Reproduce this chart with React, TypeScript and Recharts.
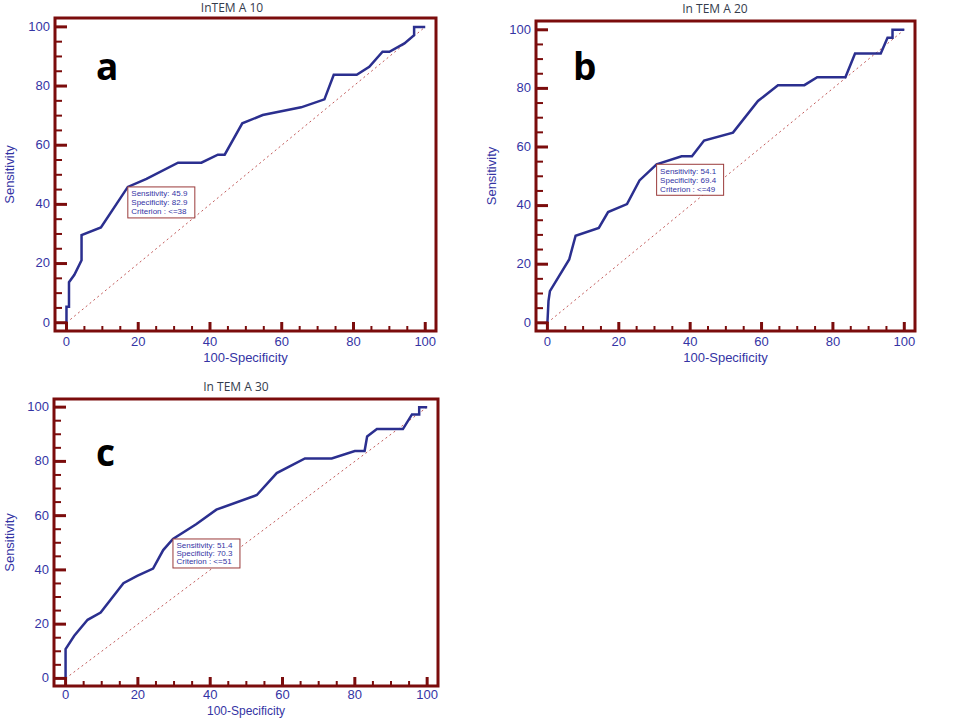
import React from 'react';
import { LineChart, Line, XAxis, YAxis, ReferenceLine, ReferenceArea, ReferenceDot } from 'recharts';

// ROC points: x = 100-Specificity, y = Sensitivity
const fprA = [0, 0, 0.7, 0.7, 2.2, 4.2, 4.2, 9.6, 17.1, 22.3, 31.1, 37.6, 42.2, 44.1, 49.0, 54.7, 65.4, 71.9, 74.5, 80.9, 84.4, 88.1, 90.0, 94.2, 96.9, 96.9, 100];
const sensA = [0, 5.4, 5.4, 13.7, 16.2, 21.1, 29.6, 32.2, 45.9, 48.6, 54.1, 54.1, 56.8, 56.8, 67.4, 70.2, 72.8, 75.5, 83.8, 83.8, 86.5, 91.6, 91.6, 94.4, 97.2, 100, 100];

const fprB = [0, 0.3, 0.7, 6.1, 7.9, 14.4, 17.0, 22.3, 25.8, 30.6, 37.6, 40.5, 43.9, 52.0, 59.0, 64.6, 72.0, 75.6, 83.5, 86.2, 93.4, 95.3, 96.7, 96.7, 100];
const sensB = [0, 7.4, 10.8, 21.6, 29.7, 32.4, 37.8, 40.5, 48.6, 54.1, 56.8, 56.8, 62.2, 64.9, 75.7, 81.1, 81.1, 83.8, 83.8, 91.9, 91.9, 97.3, 97.3, 100, 100];

const fprC = [0, 0, 2.4, 6.1, 9.7, 16.0, 19.8, 24.2, 27.0, 29.7, 36.1, 41.7, 52.9, 58.4, 66.2, 73.6, 80.0, 82.7, 83.4, 86.1, 93.3, 95.8, 97.8, 97.8, 100];
const sensC = [0, 10.8, 15.7, 21.6, 24.3, 35.1, 37.8, 40.5, 47.3, 51.4, 56.8, 62.2, 67.6, 75.7, 81.1, 81.1, 83.8, 83.8, 89.2, 91.9, 91.9, 97.3, 97.3, 100, 100];

// criterion boxes
const cutSens = [45.9, 54.1, 51.4];
const cutSpec = [82.9, 69.4, 70.3];
const cutCrit = ['<=38', '<=49', '<=51'];

const titles = ['InTEM A 10', 'In TEM A 20', 'In TEM A 30'];
const letters = ['a', 'b', 'c'];

const diagX = [0, 100];
const diagY = [0, 100];
const axisTicks = [0, 5, 10, 15, 20, 25, 30, 35, 40, 45, 50, 55, 60, 65, 70, 75, 80, 85, 90, 95, 100];

const X_DOMAIN = [-3.2, 103];
const Y_DOMAIN = [-2.8, 103];

const FRAME = '#7b0c0c';
const BLUE = '#3434a4';
const CURVE = '#2b2f8f';

const XTick = (props: any) => {
  const { x, y, payload, labelDy } = props;
  const v = payload.value;
  const major = v % 20 === 0;
  return (
    <g>
      <line x1={x} x2={x} y1={y} y2={y - (major ? 9 : 5)} stroke={FRAME} strokeWidth={major ? 3 : 2} />
      {major && (
        <text x={x} y={y + labelDy} textAnchor="middle" fill={BLUE} fontSize={13}>
          {v}
        </text>
      )}
    </g>
  );
};

const YTick = (props: any) => {
  const { x, y, payload } = props;
  const v = payload.value;
  const major = v % 20 === 0;
  return (
    <g>
      <line x1={x} x2={x + (major ? 12 : 7)} y1={y} y2={y} stroke={FRAME} strokeWidth={major ? 3 : 2} />
      {major && (
        <text x={x - 5} y={y} dy="0.3em" textAnchor="end" fill={BLUE} fontSize={13}>
          {v}
        </text>
      )}
    </g>
  );
};

const CutBox = (props: any) => {
  const { cx, cy, sens, spec, crit, boxH } = props;
  if (cx == null || cy == null) return null;
  const step = (boxH - 4) / 3;
  return (
    <g>
      <rect x={cx} y={cy} width={67} height={boxH} fill="#fff" stroke="#9a3a3a" strokeWidth={1} />
      <text x={cx + 3.5} y={cy + step + 0.5} fill={BLUE} fontSize={8}>{`Sensitivity: ${sens}`}</text>
      <text x={cx + 3.5} y={cy + 2 * step + 0.5} fill={BLUE} fontSize={8}>{`Specificity: ${spec}`}</text>
      <text x={cx + 3.5} y={cy + 3 * step + 0.5} fill={BLUE} fontSize={8}>{`Criterion : ${crit}`}</text>
    </g>
  );
};

type PanelProps = {
  idx: number;
  fpr: number[];
  sens: number[];
  left: number;
  top: number;
  width: number;
  height: number;
  margin: { top: number; right: number; left: number; bottom: number };
  yWidth: number;
  xHeight: number;
  xLabelOffset: number;
  xLabelSize: number;
  xTickDy: number;
  yLabelOffset: number;
  boxH: number;
};

function RocPanel(p: PanelProps) {
  const data = p.fpr.map((f, i) => ({ x: f, y: p.sens[i] }));
  const i = p.idx;
  return (
    <div style={{ position: 'absolute', left: p.left, top: p.top }}>
      <LineChart width={p.width} height={p.height} data={data} margin={p.margin}>
        <XAxis
          dataKey="x"
          type="number"
          domain={X_DOMAIN}
          allowDataOverflow
          ticks={axisTicks}
          interval={0}
          tickSize={0}
          tickMargin={0}
          tickLine={false}
          axisLine={false}
          tick={<XTick labelDy={p.xTickDy} />}
          height={p.xHeight}
          label={{ value: '100-Specificity', position: 'insideBottom', offset: p.xLabelOffset, fill: BLUE, fontSize: p.xLabelSize }}
        />
        <YAxis
          type="number"
          domain={Y_DOMAIN}
          allowDataOverflow
          ticks={axisTicks}
          interval={0}
          tickSize={0}
          tickMargin={0}
          tickLine={false}
          axisLine={false}
          tick={<YTick />}
          width={p.yWidth}
          label={{
            value: 'Sensitivity',
            angle: -90,
            position: 'insideLeft',
            offset: p.yLabelOffset,
            fill: BLUE,
            fontSize: 13,
            textAnchor: 'middle',
            style: { textAnchor: 'middle' },
          }}
        />
        <ReferenceArea
          x1={X_DOMAIN[0]}
          x2={X_DOMAIN[1]}
          y1={Y_DOMAIN[0]}
          y2={Y_DOMAIN[1]}
          fill="none"
          stroke={FRAME}
          strokeWidth={3}
          ifOverflow="visible"
        />
        <ReferenceLine
          segment={[
            { x: diagX[0], y: diagY[0] },
            { x: diagX[1], y: diagY[1] },
          ]}
          stroke="#c25a5a"
          strokeWidth={1}
          strokeDasharray="2 3"
        />
        <Line
          dataKey="y"
          type="linear"
          stroke={CURVE}
          strokeWidth={2.5}
          dot={false}
          activeDot={false}
          isAnimationActive={false}
        />
        <ReferenceDot
          x={100 - cutSpec[i]}
          y={cutSens[i]}
          r={0}
          zIndex={3000}
          shape={(sp: any) => (
            <CutBox {...sp} sens={cutSens[i]} spec={cutSpec[i]} crit={cutCrit[i]} boxH={p.boxH} />
          )}
        />
      </LineChart>
    </div>
  );
}

const titleStyle: React.CSSProperties = {
  position: 'absolute',
  width: 200,
  textAlign: 'center',
  fontFamily: '"Open Sans", sans-serif',
  fontSize: 12,
  lineHeight: '14px',
  color: '#343c4c',
};

const letterStyle: React.CSSProperties = {
  position: 'absolute',
  fontFamily: '"Open Sans", sans-serif',
  fontWeight: 700,
  fontSize: 37,
  lineHeight: '36px',
  color: '#000',
};

export default function App() {
  return (
    <div
      style={{
        position: 'absolute',
        left: 0,
        top: 0,
        width: 960,
        height: 720,
        background: '#fff',
        fontFamily: '"Liberation Sans", Arial, sans-serif',
      }}
    >
      <div style={{ ...titleStyle, left: 232 - 100, top: 1 }}>{titles[0]}</div>
      <div style={{ ...titleStyle, left: 715 - 100, top: 2 }}>{titles[1]}</div>
      <div style={{ ...titleStyle, left: 236 - 100, top: 380 }}>{titles[2]}</div>

      <RocPanel
        idx={0}
        fpr={fprA}
        sens={sensA}
        left={0}
        top={0}
        width={450}
        height={372}
        margin={{ top: 18, right: 14, left: 0, bottom: 0 }}
        yWidth={55}
        xHeight={41}
        xLabelOffset={10}
        xLabelSize={13}
        xTickDy={15}
        yLabelOffset={9}
        boxH={31}
      />
      <RocPanel
        idx={1}
        fpr={fprB}
        sens={sensB}
        left={480}
        top={0}
        width={440}
        height={372}
        margin={{ top: 21, right: 5, left: 0, bottom: 0 }}
        yWidth={56}
        xHeight={41}
        xLabelOffset={10}
        xLabelSize={13}
        xTickDy={15}
        yLabelOffset={11}
        boxH={31}
      />
      <RocPanel
        idx={2}
        fpr={fprC}
        sens={sensC}
        left={0}
        top={380}
        width={450}
        height={340}
        margin={{ top: 19, right: 12, left: 0, bottom: 0 }}
        yWidth={54}
        xHeight={34}
        xLabelOffset={5}
        xLabelSize={12}
        xTickDy={13}
        yLabelOffset={9}
        boxH={29}
      />

      <div style={{ ...letterStyle, left: 96, top: 48 }}>{letters[0]}</div>
      <div style={{ ...letterStyle, left: 573, top: 48 }}>{letters[1]}</div>
      <div style={{ ...letterStyle, left: 96, top: 434 }}>{letters[2]}</div>
    </div>
  );
}
